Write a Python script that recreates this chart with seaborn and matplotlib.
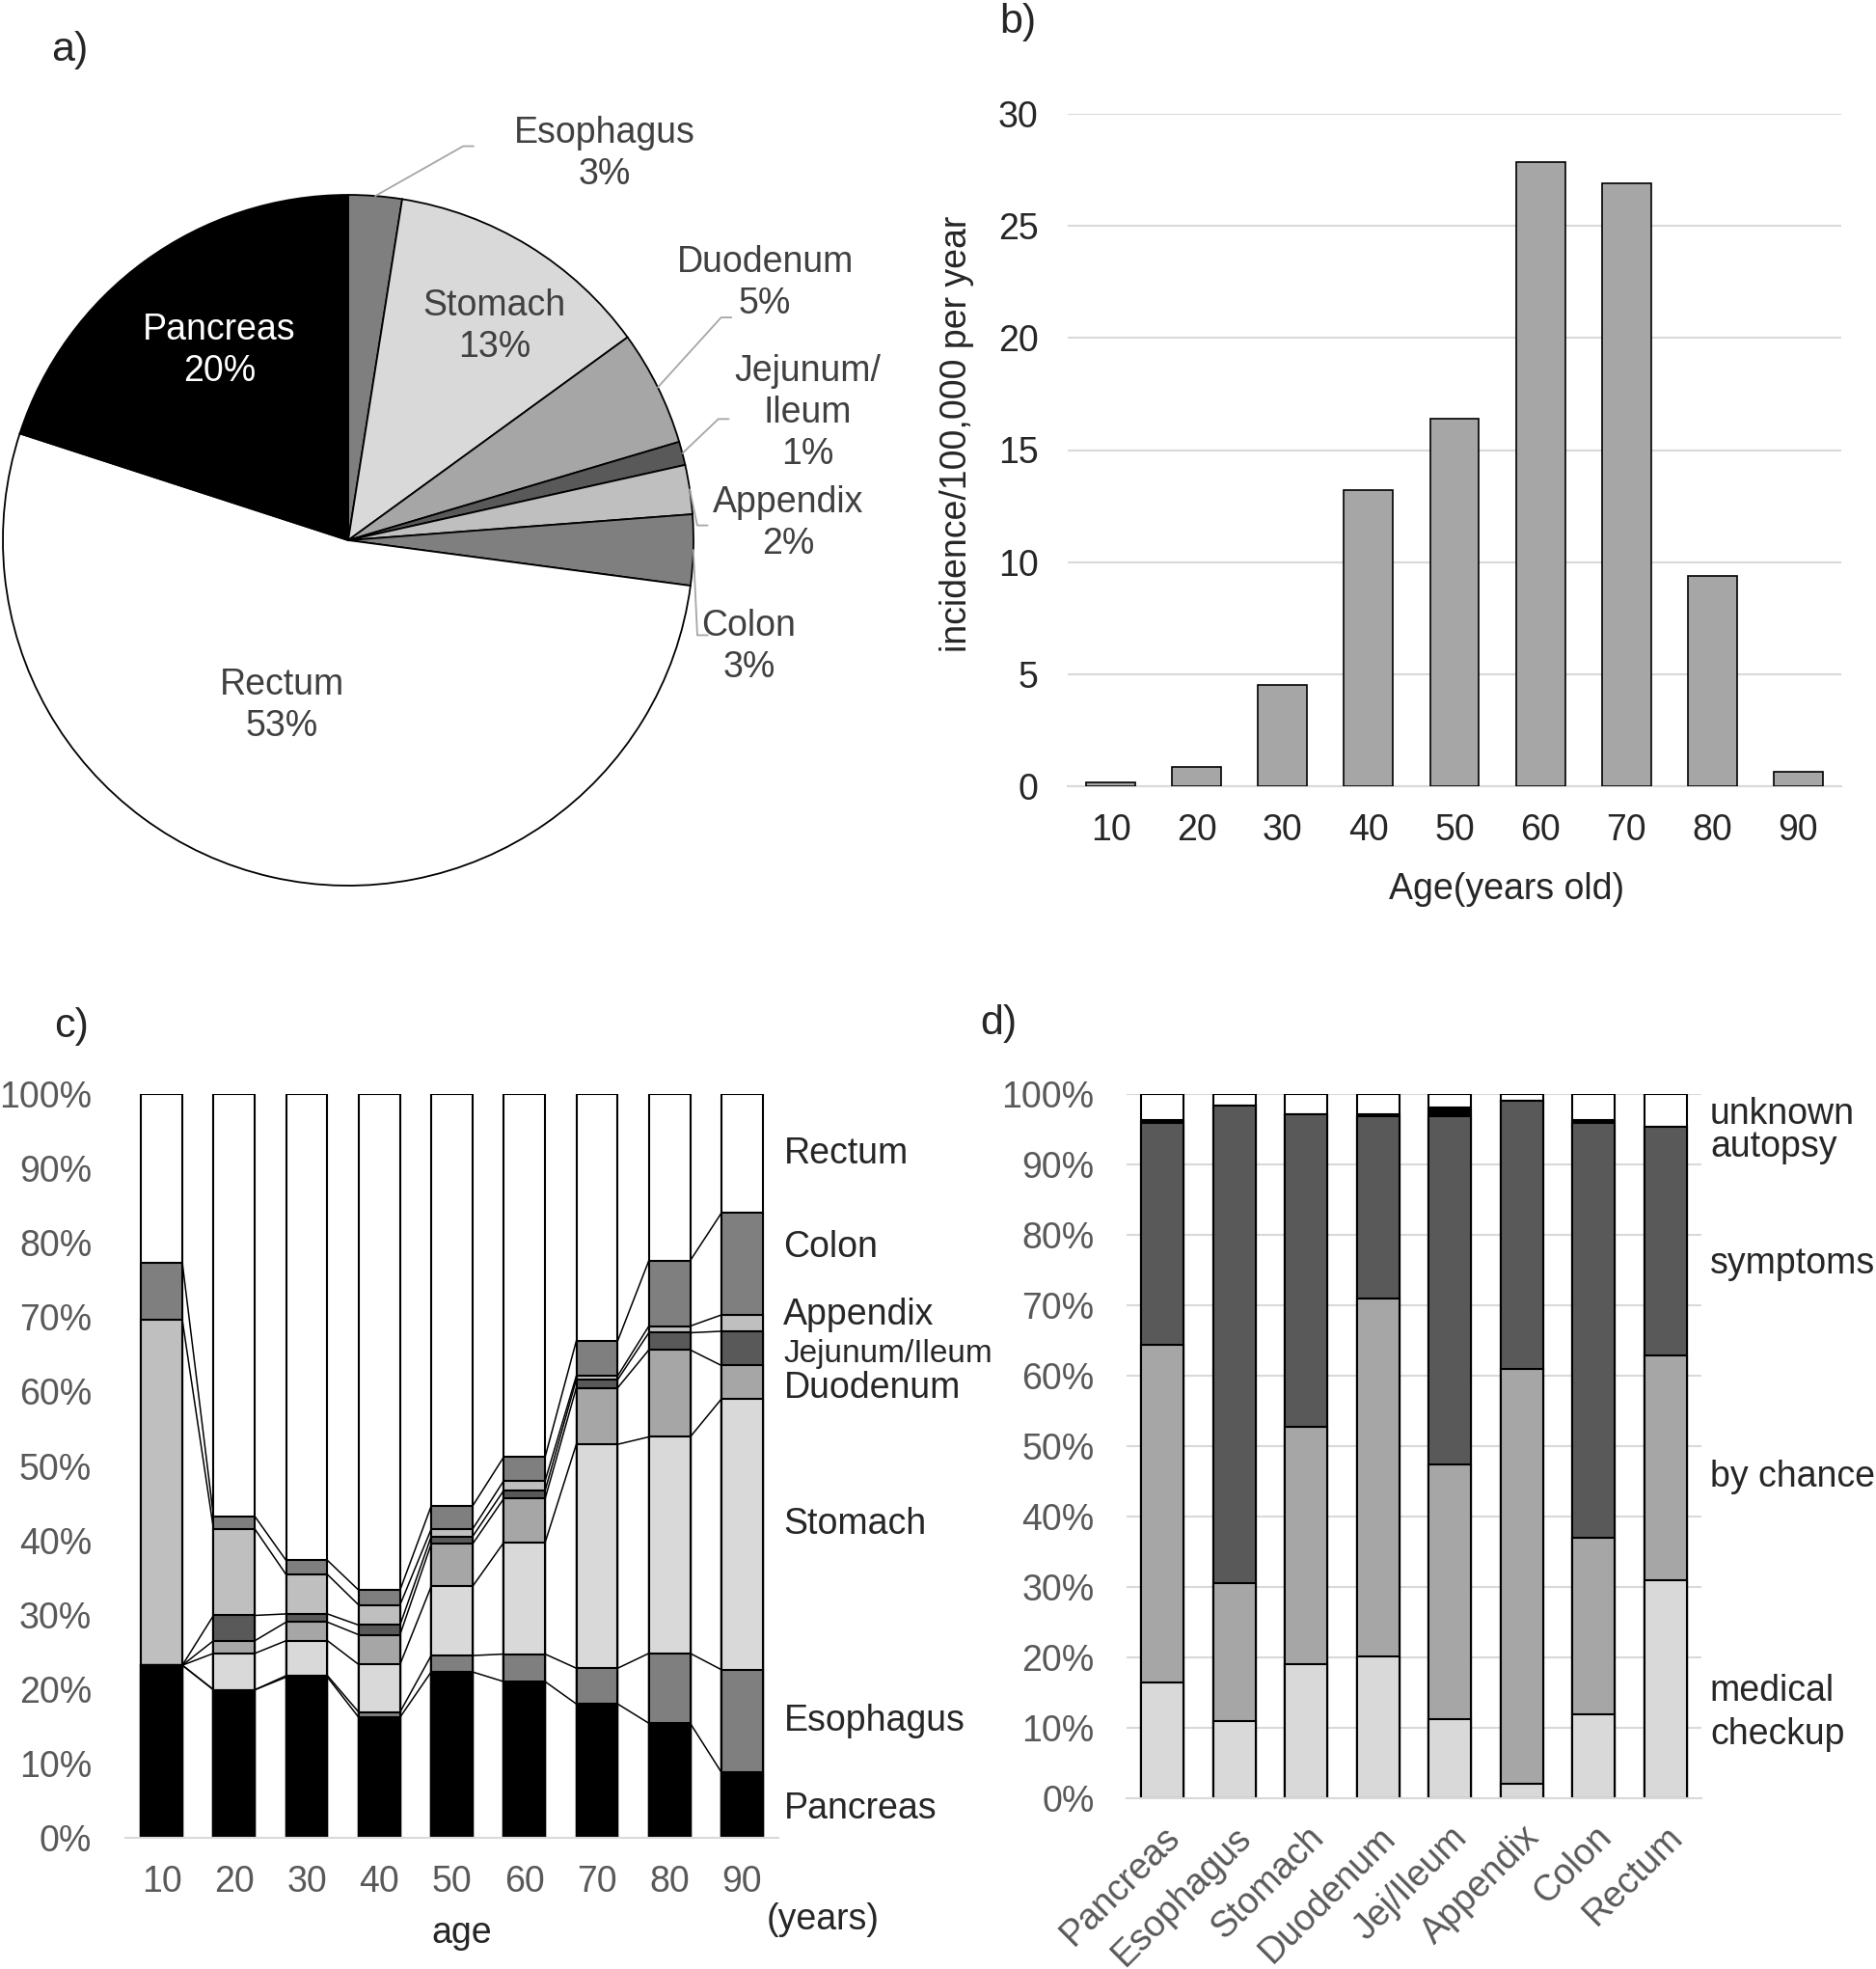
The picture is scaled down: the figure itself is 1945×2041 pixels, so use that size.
import numpy as np
import pandas as pd
import matplotlib
matplotlib.use("Agg")
import matplotlib.pyplot as plt
import matplotlib.transforms as mtransforms
import seaborn as sns

sns.set_style("white")
plt.rcParams['font.family'] = ['Liberation Sans', 'DejaVu Sans']

# ---- data ----
# a) site distribution (pie, clockwise from 12 o'clock)
pie_sites = ["Esophagus", "Stomach", "Duodenum", "Jejunum/\nIleum", "Appendix", "Colon", "Rectum", "Pancreas"]
pie_share = [2.5, 12.5, 5.4, 1.1, 2.3, 3.3, 52.9, 20.0]
pie_pct = ["3%", "13%", "5%", "1%", "2%", "3%", "53%", "20%"]
pie_colors = ["#7f7f7f", "#d9d9d9", "#a6a6a6", "#595959", "#bfbfbf", "#7f7f7f", "#ffffff", "#000000"]

# b) incidence by age
ages = ["10", "20", "30", "40", "50", "60", "70", "80", "90"]
incidence = [0.16, 0.87, 4.54, 13.2, 16.4, 27.86, 26.88, 9.37, 0.66]

# c) site share by age (%)
c_sites = ["Pancreas", "Esophagus", "Stomach", "Duodenum", "Jejunum/Ileum", "Appendix", "Colon", "Rectum"]
pancreas = [23.2, 19.9, 21.6, 16.2, 22.3, 21.0, 18.0, 15.4, 8.8]
esophagus = [0.0, 0.0, 0.2, 0.7, 2.2, 3.7, 4.8, 9.4, 13.8]
stomach = [0.0, 4.9, 4.7, 6.4, 9.3, 15.0, 30.1, 29.1, 36.4]
duodenum = [0.0, 1.7, 2.5, 4.0, 5.7, 5.9, 7.6, 11.7, 4.5]
jejunum = [0.0, 3.4, 1.1, 1.3, 1.0, 1.1, 1.1, 2.3, 4.6]
appendix = [46.4, 11.6, 5.3, 2.7, 1.0, 1.3, 0.5, 0.9, 2.2]
colon = [7.7, 1.7, 1.9, 2.0, 3.1, 3.2, 4.7, 8.8, 13.7]
rectum = [22.7, 56.8, 62.7, 66.7, 55.4, 48.8, 33.2, 22.4, 16.0]
c_colors = ["#000000", "#7f7f7f", "#d9d9d9", "#a6a6a6", "#595959", "#bfbfbf", "#7f7f7f", "#ffffff"]

# d) detection route by site (%)
organs = ["Pancreas", "Esophagus", "Stomach", "Duodenum", "Jej/Ileum", "Appendix", "Colon", "Rectum"]
checkup = [16.4, 11.0, 19.1, 20.1, 11.3, 2.0, 11.9, 31.0]
chance = [48.0, 19.5, 33.7, 50.8, 36.1, 58.9, 25.1, 31.9]
symptoms = [31.5, 67.9, 44.3, 26.0, 49.4, 38.1, 58.9, 32.5]
autopsy = [0.4, 0.0, 0.0, 0.2, 1.3, 0.0, 0.4, 0.0]
unknown = [3.7, 1.6, 2.9, 2.9, 1.9, 1.0, 3.7, 4.6]
d_colors = ["#d9d9d9", "#a6a6a6", "#595959", "#000000", "#ffffff"]

W, H = 1945, 2041
fig = plt.figure(figsize=(W / 100, H / 100), dpi=100)
FS = 27


def px_axes(left, top, right, bottom):
    return fig.add_axes([left / W, 1 - bottom / H, (right - left) / W, (bottom - top) / H])


def stacked(ax, cats, series, colors, width):
    # cumulative overlay, tallest first
    cum = np.cumsum(np.array(series), axis=0)
    for j in range(len(series) - 1, -1, -1):
        sns.barplot(x=cats, y=cum[j], order=cats, color=colors[j], saturation=1,
                    edgecolor="black", linewidth=1.5, width=width, errorbar=None, ax=ax)
    return cum


gray_txt = "#595959"
grid_c = "#d9d9d9"

# ---- a) pie ----
R = 358
cx, cy = 361, 560
xl, yl = (-1.008, 1.62), (-1.01, 1.3)
ax_a = px_axes(cx + xl[0] * R, cy - yl[1] * R, cx + xl[1] * R, cy - yl[0] * R)
wedges, _ = ax_a.pie(pie_share, colors=pie_colors, startangle=90, counterclock=False,
                     wedgeprops=dict(edgecolor="black", linewidth=1.3))
ax_a.set_xlim(*xl)
ax_a.set_ylim(*yl)
ax_a.set_aspect("auto")
ax_a.axis("off")

lab_col = "#404040"
inside = {"Stomach": (0.424, 0.62, lab_col), "Pancreas": (-0.373, 0.55, "white"),
          "Rectum": (-0.192, -0.48, lab_col)}
outside = {"Esophagus": ((0.743, 1.12), (0.333, 1.141)),
           "Duodenum": ((1.207, 0.745), (1.08, 0.645)),
           "Jejunum/\nIleum": ((1.33, 0.37), (1.072, 0.351)),
           "Appendix": ((1.275, 0.05), (1.011, 0.043)),
           "Colon": ((1.16, -0.31), (1.011, -0.275))}
for w, name, pct in zip(wedges, pie_sites, pie_pct):
    if name in inside:
        tx, ty, col = inside[name]
        ax_a.text(tx, ty, f"{name}\n{pct}", ha="center", va="center", fontsize=FS,
                  color=col, linespacing=1.25)
    else:
        (tx, ty), (ex, ey) = outside[name]
        mid = np.deg2rad((w.theta1 + w.theta2) / 2)
        sx, sy = np.cos(mid), np.sin(mid)
        ax_a.plot([sx, ex, ex + 0.03], [sy, ey, ey], color="#a6a6a6", lw=1.3, clip_on=False)
        ax_a.text(tx, ty, f"{name}\n{pct}", ha="center", va="center", fontsize=FS,
                  color=lab_col, linespacing=1.25)

# ---- b) incidence ----
ax_b = px_axes(1107, 118, 1909, 815)
sns.barplot(x=ages, y=incidence, order=ages, color="#a6a6a6", saturation=1,
            edgecolor="black", linewidth=1.2, width=0.57, errorbar=None, ax=ax_b, zorder=3)
ax_b.set_xlim(-0.5, 8.5)
ax_b.set_ylim(0, 30)
ax_b.set_yticks(range(0, 31, 5))
ax_b.yaxis.grid(True, color=grid_c, lw=1.5, zorder=0)
ax_b.set_axisbelow(True)
for s in ["top", "right", "left"]:
    ax_b.spines[s].set_visible(False)
ax_b.spines["bottom"].set_color(grid_c)
ax_b.spines["bottom"].set_linewidth(1.5)
ax_b.tick_params(length=0, labelsize=FS, pad=20)
ax_b.tick_params(axis="y", pad=22)
ax_b.set_xlabel("Age(years old)", fontsize=FS, va="center")
ax_b.xaxis.set_label_coords(0.568, -0.153)
ax_b.set_ylabel("incidence/100,000 per year", fontsize=FS, va="center", ha="center")
ax_b.yaxis.set_label_coords(-0.143, 0.524)

# ---- c) site share by age ----
ax_c = px_axes(130, 1134, 807, 1905)
c_series = [pancreas, esophagus, stomach, duodenum, jejunum, appendix, colon, rectum]
wc = 0.57
cum_c = stacked(ax_c, ages, c_series, c_colors, wc)
for j in range(len(c_series) - 1):
    for i in range(len(ages) - 1):
        ax_c.plot([i + wc / 2, i + 1 - wc / 2], [cum_c[j][i], cum_c[j][i + 1]],
                  color="black", lw=1.1, zorder=5)
ax_c.set_xlim(-0.5, 8.5)
ax_c.set_ylim(0, 100)
ax_c.set_yticks(range(0, 101, 10))
ax_c.set_yticklabels([f"{v}%" for v in range(0, 101, 10)])
for s in ["top", "right", "left"]:
    ax_c.spines[s].set_visible(False)
ax_c.spines["bottom"].set_color(grid_c)
ax_c.spines["bottom"].set_linewidth(1.5)
ax_c.tick_params(length=0, labelsize=FS, labelcolor=gray_txt, pad=20)
ax_c.tick_params(axis="y", pad=25)
ax_c.set_xlabel("")
ax_c.set_ylabel("")
tc = mtransforms.blended_transform_factory(ax_c.transAxes, ax_c.transData)
c_lab_y = [3.9, 15.7, 42.2, 60.5, 65.0, 70.3, 79.4, 91.9]
for name, yy in zip(c_sites, c_lab_y):
    fs = 24 if name == "Jejunum/Ileum" else FS
    ax_c.text(1.008, yy, name, transform=tc, ha="left", va="center", fontsize=fs)
fig.text(479 / W, 1 - 2004 / H, "age", ha="center", va="center", fontsize=FS)
fig.text(853 / W, 1 - 1990 / H, "(years)", ha="center", va="center", fontsize=FS)

# ---- d) detection route ----
ax_d = px_axes(1168, 1134, 1764, 1864)
d_series = [checkup, chance, symptoms, autopsy, unknown]
stacked(ax_d, organs, d_series, d_colors, 0.59)
ax_d.set_xlim(-0.5, 7.5)
ax_d.set_ylim(0, 100)
ax_d.set_yticks(range(0, 101, 10))
ax_d.set_yticklabels([f"{v}%" for v in range(0, 101, 10)])
ax_d.yaxis.grid(True, color=grid_c, lw=1.5, zorder=0)
ax_d.set_axisbelow(True)
for s in ["top", "right", "left"]:
    ax_d.spines[s].set_visible(False)
ax_d.spines["bottom"].set_color(grid_c)
ax_d.spines["bottom"].set_linewidth(1.5)
ax_d.tick_params(length=0, labelsize=FS, labelcolor=gray_txt)
ax_d.tick_params(axis="y", pad=24)
ax_d.tick_params(axis="x", pad=16)
plt.setp(ax_d.get_xticklabels(), rotation=45, ha="right", rotation_mode="anchor")
ax_d.set_xlabel("")
ax_d.set_ylabel("")
td = mtransforms.blended_transform_factory(ax_d.transAxes, ax_d.transData)
d_labels = [("unknown", 97.1), ("autopsy", 92.5), ("symptoms", 75.9), ("by chance", 45.6),
            ("medical", 15.2), ("checkup", 9.1)]
for name, yy in d_labels:
    ax_d.text(1.015, yy, name, transform=td, ha="left", va="center", fontsize=FS)

# panel letters
for lbl, x, y in [("a)", 72, 52), ("b)", 1055, 23), ("c)", 74, 1064), ("d)", 1035, 1061)]:
    fig.text(x / W, 1 - y / H, lbl, ha="center", va="center", fontsize=31)

fig.savefig("out.png", dpi=100)
